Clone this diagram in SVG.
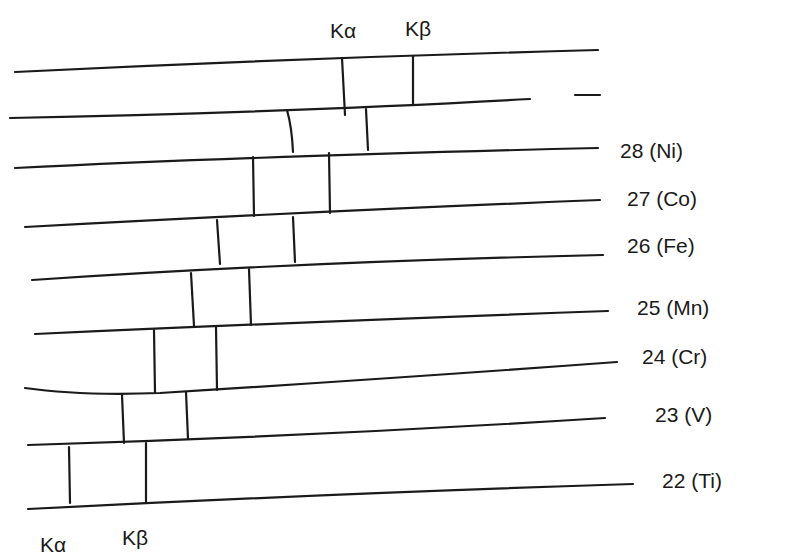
<svg xmlns="http://www.w3.org/2000/svg" width="796" height="560" viewBox="0 0 796 560">
<style>
.ln{fill:none;stroke:#1a1a1a;stroke-width:2.2;stroke-linecap:round;stroke-linejoin:round}
.t{font-family:"Liberation Sans",sans-serif;font-size:21px;fill:#1a1a1a}
</style>
<rect width="796" height="560" fill="#fff"/>
<g id="levels">
<path class="ln" d="M15,72 Q300,58 598,50"/>
<path class="ln" d="M10,118 Q300,112 530,99"/>
<path class="ln" d="M575,95 L600,95"/>
<path class="ln" d="M15,168 Q260,156 598,148"/>
<path class="ln" d="M25,227 Q300,212 600,200"/>
<path class="ln" d="M32,280 Q300,262 603,255"/>
<path class="ln" d="M35,334 Q300,322 608,311"/>
<path class="ln" d="M25,388 Q80,396 160,393 Q400,378 617,362"/>
<path class="ln" d="M28,445 Q320,436 605,418"/>
<path class="ln" d="M28,509 Q320,494 633,484"/>
</g>
<g id="transitions">
<path class="ln" d="M342,58 L345,115"/>
<path class="ln" d="M413,56 L413,104"/>
<path class="ln" d="M287,110 Q292,128 293,152"/>
<path class="ln" d="M366,109 L368,150"/>
<path class="ln" d="M253,157 L254,216"/>
<path class="ln" d="M329,153 L330,213"/>
<path class="ln" d="M217,220 L220,264"/>
<path class="ln" d="M293,217 L295,262"/>
<path class="ln" d="M191,273 L194,326"/>
<path class="ln" d="M249,269 L251,325"/>
<path class="ln" d="M154,330 L155,393"/>
<path class="ln" d="M216,327 L217,390"/>
<path class="ln" d="M122,395 L124,443"/>
<path class="ln" d="M186,392 L188,439"/>
<path class="ln" d="M69,447 L70,503"/>
<path class="ln" d="M146,443 L146,502"/>
</g>
<g id="labels">
<text class="t" x="330" y="38">Kα</text>
<text class="t" x="405" y="36">Kβ</text>
<text class="t" x="40" y="552">Kα</text>
<text class="t" x="122" y="545">Kβ</text>
<text class="t" x="620" y="158">28 (Ni)</text>
<text class="t" x="627" y="206">27 (Co)</text>
<text class="t" x="627" y="253">26 (Fe)</text>
<text class="t" x="637" y="315">25 (Mn)</text>
<text class="t" x="642" y="364">24 (Cr)</text>
<text class="t" x="655" y="422">23 (V)</text>
<text class="t" x="662" y="488">22 (Ti)</text>
</g>
</svg>
